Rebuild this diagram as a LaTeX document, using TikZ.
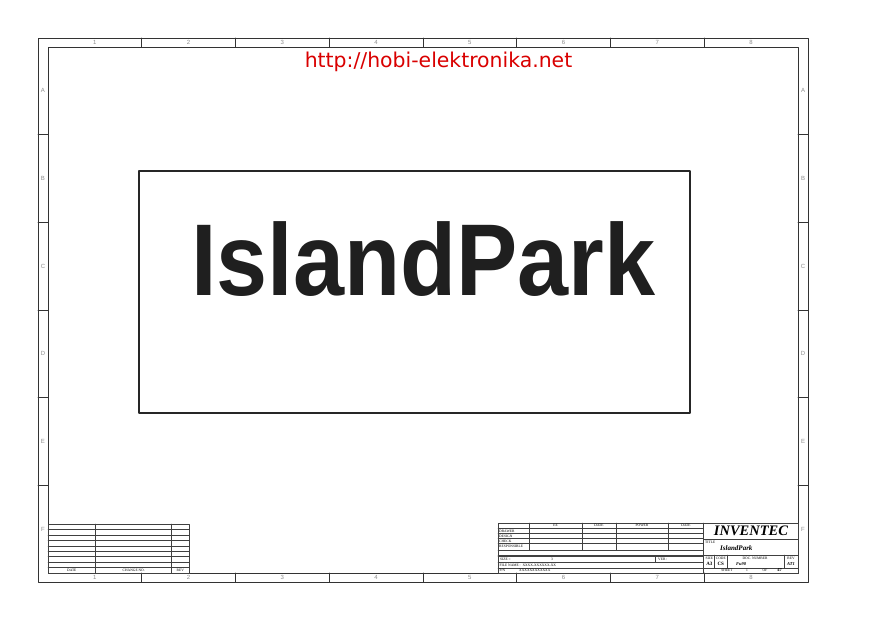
\documentclass[tikz,border=0pt]{standalone}
\usepackage{fontspec}
\setmainfont{Liberation Serif}
\newfontfamily\headfont{Liberation Sans}
\newfontfamily\urlfont{DejaVu Sans}
\tikzset{
  border/.style={line width=0.8pt, black!80},
  grid line/.style={line width=0.5pt, black!75},
  zone label/.style={text=black!45, font=\headfont\fontsize{6}{6}\selectfont, inner sep=0pt},
  tb text/.style={font=\fontsize{3.6}{4}\selectfont, inner sep=0pt},
  tb value/.style={font=\bfseries\fontsize{5}{5}\selectfont, inner sep=0pt},
}
\begin{document}
\begin{tikzpicture}[x=1pt, y=-1pt, line join=round, line cap=round]
\useasboundingbox (0,0) rectangle (878,621);
% frame and zones
\draw[border] (38,38) rectangle (808,582);
\draw[border] (48,47) rectangle (798,573);
\foreach \i in {1,...,7}
  {\draw[border] ({48+93.75*\i},38)--({48+93.75*\i},47);
   \draw[border] ({48+93.75*\i},573)--({48+93.75*\i},582);}
\foreach \j in {1,...,5}
  {\draw[border] (38,{47+87.67*\j})--(48,{47+87.67*\j});
   \draw[border] (798,{47+87.67*\j})--(808,{47+87.67*\j});}
\foreach \i in {1,...,8}
  {\node[zone label] (top\i) at ({48+93.75*(\i-0.5)},42.5) {\i};
   \node[zone label] (bot\i) at ({48+93.75*(\i-0.5)},577.5) {\i};}
\foreach \l [count=\j] in {A,B,C,D,E,F}
  {\node[zone label] (left\l) at (43,{47+87.67*(\j-0.5)}) {\l};
   \node[zone label] (right\l) at (803,{47+87.67*(\j-0.5)}) {\l};}
% web address
\node[text=red!85!black, font=\urlfont\fontsize{20.4}{20.4}\selectfont, inner sep=0pt] (url) at (438.5,62) {http://hobi-elektronika.net};
% main box
\draw[line width=1.4pt, black!85] (139,171) rectangle (690,413);
\node[anchor=base, font=\headfont\bfseries\fontsize{102}{102}\selectfont, text=black!88, inner sep=0pt] (name) at (423.5,295) {\scalebox{0.9}[1]{IslandPark}};
% revision block
\draw[grid line] (48,524) rectangle (189,573);
\foreach \k in {1,...,8}
  \draw[grid line] (48,{524+5.44*\k})--(189,{524+5.44*\k});
\draw[grid line] (95.7,524)--(95.7,573) (171.7,524)--(171.7,573);
\path
  (71.8,570.3) node[tb text] (rdate) {DATE}
  (133.7,570.3) node[tb text] (rchange) {CHANGE NO.}
  (180.3,570.3) node[tb text] (rrev) {REV};
% title block
\draw[grid line] (498,523) rectangle (798,573);
\foreach \y in {528.5,533.5,538.5,543.5,550,554.8,556.6,562.5,568}
  \draw[grid line] (498,\y)--(703.5,\y);
\foreach \x in {529.3,582,616,668}
  \draw[grid line] (\x,523)--(\x,550);
\draw[grid line] (655.7,556.6)--(655.7,562.5);
\draw[grid line] (703.5,523)--(703.5,573);
\foreach \y in {539,555,568}
  \draw[grid line] (703.5,\y)--(798,\y);
\draw[grid line] (714.5,555)--(714.5,568) (727,555)--(727,568) (784,555)--(784,568);
\path
  (555.6,525.8) node[tb text] (hee) {EE}
  (599,525.8) node[tb text] (hdate) {DATE}
  (642,525.8) node[tb text] (hpower) {POWER}
  (686,525.8) node[tb text] (hdatep) {DATE}
  (499,531) node[tb text, anchor=west] (drawer) {DRAWER}
  (499,536) node[tb text, anchor=west] (design) {DESIGN}
  (499,541) node[tb text, anchor=west] (check) {CHECK}
  (499,546.8) node[tb text, anchor=west] (resp) {RESPONSIBLE}
  (500,559.6) node[tb text, anchor=west] (sizeeq) {SIZE =}
  (552,559.6) node[tb text] (sizev) {3}
  (658,559.6) node[tb text, anchor=west] (ver) {VER :}
  (499.5,565.3) node[tb text, anchor=west] (fname) {FILE NAME :\ \ XXXX-XXXXXX-XX}
  (502.5,570.5) node[tb text] (pn) {P/N}
  (519,570.5) node[tb text, anchor=west] (pnv) {XXXXXXXXXXXX}
  (751,535.3) node[anchor=base, font=\bfseries\itshape\fontsize{14.5}{14.5}\selectfont, inner sep=0pt] (company) {INVENTEC}
  (705,542.5) node[tb text, anchor=west] (ttl) {TITLE}
  (720,550) node[anchor=base west, font=\bfseries\itshape\fontsize{7}{7}\selectfont, inner sep=0pt] (ttlv) {IslandPark}
  (709.3,558.5) node[tb text] (size) {SIZE}
  (720.8,558.5) node[tb text] (code) {CODE}
  (755,558.5) node[tb text] (docno) {DOC. NUMBER}
  (791,558.5) node[tb text] (rev) {REV}
  (709.3,564.2) node[tb value] (sizea) {A3}
  (720.8,564.2) node[tb value] (codev) {CS}
  (741,564.2) node[tb value, font=\bfseries\itshape\fontsize{4.5}{5}\selectfont] (docv) {Fu90}
  (791,564.2) node[tb value, font=\bfseries\itshape\fontsize{4.5}{5}\selectfont] (revv) {AT1}
  (727,570.5) node[tb text] (sheet) {SHEET}
  (747,570.5) node[tb text] (sheetv) {1}
  (765,570.5) node[tb text] (of) {OF}
  (779.5,570.5) node[tb value, font=\bfseries\fontsize{4.5}{5}\selectfont] (ofv) {47};
\end{tikzpicture}
\end{document}
